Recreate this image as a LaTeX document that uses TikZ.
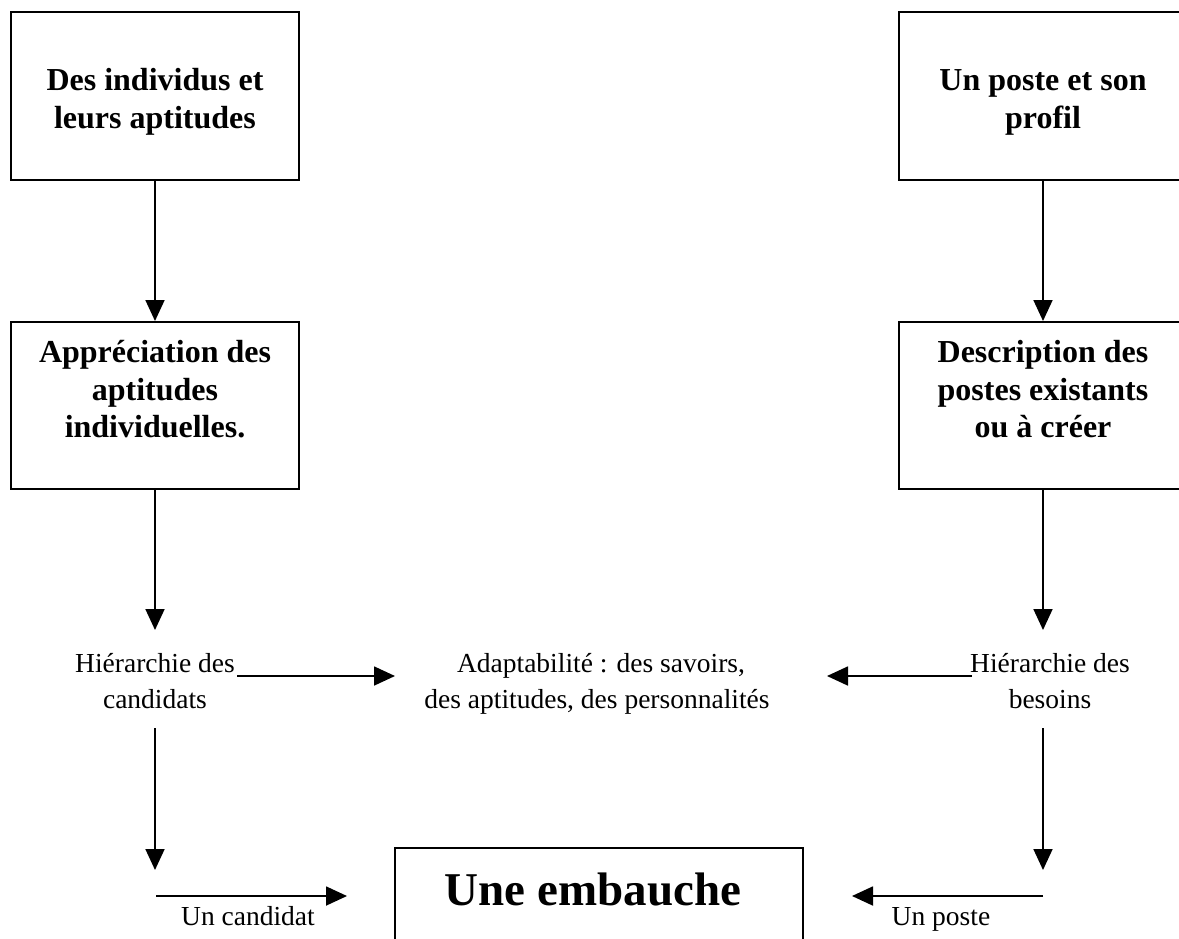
\documentclass[tikz,border=0pt]{standalone}
\usepackage{fontspec}
\setmainfont{Liberation Serif}
\usetikzlibrary{arrows.meta}
\begin{document}
\begin{tikzpicture}[x=1pt,y=-1pt,
  box/.style={draw, line width=2pt, inner sep=0pt},
  conn/.style={line width=1.8pt, -{Triangle[length=21pt,width=19pt]}},
  bt/.style={font=\fontsize{32}{38}\selectfont\bfseries, anchor=base, inner sep=0pt},
  rt/.style={font=\fontsize{27.5}{36}\selectfont, anchor=base, inner sep=0pt},
  big/.style={font=\fontsize{47}{56}\selectfont\bfseries, anchor=base, inner sep=0pt}]
\useasboundingbox (0,0) rectangle (1179,938);
\clip (0,0) rectangle (1179,938);
% boxes
\node[box, minimum width=288pt, minimum height=168pt] (A) at (155,96) {};
\node[box, minimum width=288pt, minimum height=168pt] (B) at (1043,96) {};
\node[box, minimum width=288pt, minimum height=167pt] (C) at (155,405.5) {};
\node[box, minimum width=288pt, minimum height=167pt] (D) at (1043,405.5) {};
\node[box, minimum width=408pt, minimum height=142pt] (E) at (599,919) {};
% box texts
\node[bt] (A1) at (155,90) {Des individus et};
\node[bt] (A2) at (155,128) {leurs aptitudes};
\node[bt] (B1) at (1043,90) {Un poste et son};
\node[bt] (B2) at (1043,128) {profil};
\node[bt] (C1) at (155,362) {Appréciation des};
\node[bt] (C2) at (155,400) {aptitudes};
\node[bt] (C3) at (155,437) {individuelles.};
\node[bt] (D1) at (1043,362) {Description des};
\node[bt] (D2) at (1043,400) {postes existants};
\node[bt] (D3) at (1043,437) {ou à créer};
\node[big] (E1) at (593,905) {Une embauche};
% plain texts
\node[rt] (HC1) at (155,672) {Hiérarchie des};
\node[rt] (HC2) at (155,708) {candidats};
\node[rt] (M1) at (601,672) {Adaptabilité : des savoirs,};
\node[rt] (M2) at (597,708) {des aptitudes, des personnalités};
\node[rt] (HB1) at (1050,672) {Hiérarchie des};
\node[rt] (HB2) at (1050,708) {besoins};
\node[rt] (UC) at (248,925) {Un candidat};
\node[rt] (UP) at (941,925) {Un poste};
% connector ends
\coordinate (c1) at (155,630);
\coordinate (d1) at (1043,630);
\coordinate (hcA) at (237,676);
\coordinate (hcB) at (395,676);
\coordinate (hbA) at (972,676);
\coordinate (hbB) at (827,676);
\coordinate (lcA) at (155,728);
\coordinate (lcB) at (155,870);
\coordinate (rcA) at (1043,728);
\coordinate (rcB) at (1043,870);
\coordinate (ucA) at (156,896);
\coordinate (ucB) at (347,896);
\coordinate (upA) at (1043,896);
\coordinate (upB) at (852,896);
% connectors
\draw[conn] (A.south) -- (C.north);
\draw[conn] (B.south) -- (D.north);
\draw[conn] (C.south) -- (c1);
\draw[conn] (D.south) -- (d1);
\draw[conn] (hcA) -- (hcB);
\draw[conn] (hbA) -- (hbB);
\draw[conn] (lcA) -- (lcB);
\draw[conn] (rcA) -- (rcB);
\draw[conn] (ucA) -- (ucB);
\draw[conn] (upA) -- (upB);
\end{tikzpicture}
\end{document}
